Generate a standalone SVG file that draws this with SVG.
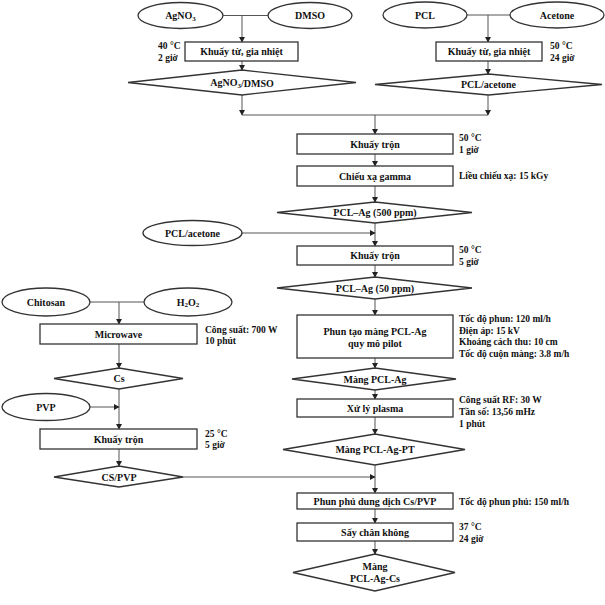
<svg xmlns="http://www.w3.org/2000/svg" width="605" height="605" viewBox="0 0 605 605">
<defs>
<marker id="ah" markerWidth="6" markerHeight="6" refX="5" refY="3" orient="auto" markerUnits="userSpaceOnUse">
<path d="M0,0 L5.5,3 L0,6 Z" fill="#222"/>
</marker>
<style>
.s{fill:#fff;stroke:#333;stroke-width:1.3}
.c{fill:none;stroke:#555;stroke-width:1}
.a{marker-end:url(#ah)}
text{font-family:"Liberation Serif","Times New Roman",serif;font-weight:bold;fill:#111;dominant-baseline:central}
.t{font-size:10px;text-anchor:middle}
.n{font-size:9.5px;text-anchor:start}
.sub{font-size:7px}
</style>
</defs>
<rect width="605" height="605" fill="#fff"/>
<g id="connectors">
<path class="c" d="M223,15.5 H268"/>
<path class="c a" d="M242,15.5 V42"/>
<path class="c a" d="M242,61 V70"/>
<path class="c a" d="M242,95 V115"/>
<path class="c" d="M242,115 H488"/>
<path class="c" d="M467,15 H510"/>
<path class="c a" d="M488,15 V42"/>
<path class="c a" d="M488,61 V74"/>
<path class="c a" d="M488,95 V115"/>
<path class="c a" d="M375,115 V134"/>
<path class="c a" d="M375,154 V166"/>
<path class="c a" d="M375,186 V202"/>
<path class="c a" d="M375,223 V246"/>
<path class="c a" d="M242,233 H375"/>
<path class="c a" d="M375,265 V277"/>
<path class="c a" d="M375,299 V315"/>
<path class="c a" d="M375,358 V368"/>
<path class="c a" d="M375,390 V399"/>
<path class="c a" d="M375,417 V434"/>
<path class="c a" d="M375,465 V493"/>
<path class="c a" d="M183,477 H375"/>
<path class="c a" d="M375,509 V523"/>
<path class="c a" d="M375,541 V554"/>
<path class="c" d="M90,302 H144"/>
<path class="c a" d="M119,302 V324"/>
<path class="c a" d="M119,344 V368"/>
<path class="c a" d="M119,389 V429"/>
<path class="c a" d="M90,407 H119"/>
<path class="c a" d="M119,449 V466"/>
</g>
<g id="agno3"><ellipse class="s" cx="180.5" cy="15.5" rx="42.5" ry="13"/><text class="t" x="180.5" y="15.5">AgNO<tspan class="sub" dy="3">3</tspan></text></g>
<g id="dmso"><ellipse class="s" cx="310" cy="15.5" rx="42" ry="13"/><text class="t" x="310" y="15.5">DMSO</text></g>
<g id="pcl"><ellipse class="s" cx="425" cy="15" rx="42" ry="13"/><text class="t" x="425" y="15">PCL</text></g>
<g id="acetone"><ellipse class="s" cx="557" cy="15" rx="47" ry="13"/><text class="t" x="557" y="15">Acetone</text></g>
<g id="khuay-tu-1"><rect class="s" x="185" y="42" width="113" height="19"/><text class="t" x="241.5" y="51.5">Khuấy từ, gia nhiệt</text><text class="n" x="158" y="46">40 °C</text><text class="n" x="158" y="57.5">2 giờ</text></g>
<g id="khuay-tu-2"><rect class="s" x="436" y="42" width="106" height="19"/><text class="t" x="489" y="51.5">Khuấy từ, gia nhiệt</text><text class="n" x="550" y="46">50 °C</text><text class="n" x="550" y="57.5">24 giờ</text></g>
<g id="agno3-dmso"><polygon class="s" points="128,82.5 242,70 356,82.5 242,95"/><text class="t" x="242" y="82.5">AgNO<tspan class="sub" dy="3">3</tspan><tspan dy="-3">/DMSO</tspan></text></g>
<g id="pcl-acetone"><polygon class="s" points="375,84.5 488.5,74 602,84.5 488.5,95"/><text class="t" x="488.5" y="84.5">PCL/acetone</text></g>
<g id="khuay-tron-1"><rect class="s" x="297" y="134" width="156" height="20"/><text class="t" x="375" y="144">Khuấy trộn</text><text class="n" x="459" y="138">50 °C</text><text class="n" x="459" y="150">1 giờ</text></g>
<g id="chieu-xa"><rect class="s" x="297" y="166" width="156" height="20"/><text class="t" x="375" y="176">Chiếu xạ gamma</text><text class="n" x="459" y="176">Liều chiếu xạ: 15 kGy</text></g>
<g id="pcl-ag-500"><polygon class="s" points="277,212.5 375,202 472,212.5 375,223"/><text class="t" x="375" y="212.5">PCL–Ag (500 ppm)</text></g>
<g id="pcl-acetone-2"><ellipse class="s" cx="192.5" cy="233" rx="49.5" ry="12.5"/><text class="t" x="192.5" y="233">PCL/acetone</text></g>
<g id="khuay-tron-2"><rect class="s" x="297" y="246" width="156" height="19"/><text class="t" x="375" y="255.5">Khuấy trộn</text><text class="n" x="459" y="250">50 °C</text><text class="n" x="459" y="262">5 giờ</text></g>
<g id="pcl-ag-50"><polygon class="s" points="277,288 375,277 472,288 375,299"/><text class="t" x="375" y="288">PCL–Ag (50 ppm)</text></g>
<g id="phun-tao-mang"><rect class="s" x="297" y="315" width="156" height="43"/><text class="t" x="375" y="331.5">Phun tạo màng PCL-Ag</text><text class="t" x="375" y="343.5">quy mô pilot</text><text class="n" x="459" y="319">Tốc độ phun: 120 ml/h</text><text class="n" x="459" y="330.5">Điện áp: 15 kV</text><text class="n" x="459" y="342">Khoảng cách thu: 10 cm</text><text class="n" x="459" y="353.5">Tốc độ cuộn màng: 3.8 m/h</text></g>
<g id="mang-pcl-ag"><polygon class="s" points="292,379 375,368 456,379 375,390"/><text class="t" x="375" y="379">Màng PCL-Ag</text></g>
<g id="plasma"><rect class="s" x="297" y="399" width="156" height="18"/><text class="t" x="375" y="408">Xử lý plasma</text><text class="n" x="459" y="400">Công suất RF: 30 W</text><text class="n" x="459" y="412">Tần số: 13,56 mHz</text><text class="n" x="459" y="424">1 phút</text></g>
<g id="mang-pcl-ag-pt"><polygon class="s" points="283,449.5 375,434 465,449.5 375,465"/><text class="t" x="375" y="449.5">Màng PCL-Ag-PT</text></g>
<g id="phun-phu"><rect class="s" x="297" y="493" width="156" height="16"/><text class="t" x="375" y="501">Phun phủ dung dịch Cs/PVP</text><text class="n" x="459" y="501.5">Tốc độ phun phủ: 150 ml/h</text></g>
<g id="say"><rect class="s" x="297" y="523" width="156" height="18"/><text class="t" x="375" y="532">Sấy chân không</text><text class="n" x="459" y="527">37 °C</text><text class="n" x="459" y="539">24 giờ</text></g>
<g id="mang-pcl-ag-cs"><polygon class="s" points="293,572.5 375,554 455,572.5 375,591"/><text class="t" x="375" y="566.5">Màng</text><text class="t" x="375" y="578.5">PCL-Ag-Cs</text></g>
<g id="chitosan"><ellipse class="s" cx="46" cy="302" rx="44" ry="14"/><text class="t" x="46" y="302">Chitosan</text></g>
<g id="h2o2"><ellipse class="s" cx="188" cy="302" rx="44" ry="14"/><text class="t" x="188" y="302">H<tspan class="sub" dy="3">2</tspan><tspan dy="-3">O</tspan><tspan class="sub" dy="3">2</tspan></text></g>
<g id="microwave"><rect class="s" x="40" y="324" width="157" height="20"/><text class="t" x="118.5" y="334">Microwave</text><text class="n" x="205" y="330">Công suất: 700 W</text><text class="n" x="205" y="341">10 phút</text></g>
<g id="cs"><polygon class="s" points="54,378.5 119,368 183,378.5 119,389"/><text class="t" x="119" y="378.5">Cs</text></g>
<g id="pvp"><ellipse class="s" cx="46" cy="407" rx="44" ry="13.5"/><text class="t" x="46" y="407">PVP</text></g>
<g id="khuay-tron-3"><rect class="s" x="40" y="429" width="157" height="20"/><text class="t" x="118.5" y="439">Khuấy trộn</text><text class="n" x="205" y="434">25 °C</text><text class="n" x="205" y="445">5 giờ</text></g>
<g id="cs-pvp"><polygon class="s" points="54,477 119,466 183,477 119,487"/><text class="t" x="119" y="477">CS/PVP</text></g>
</svg>
